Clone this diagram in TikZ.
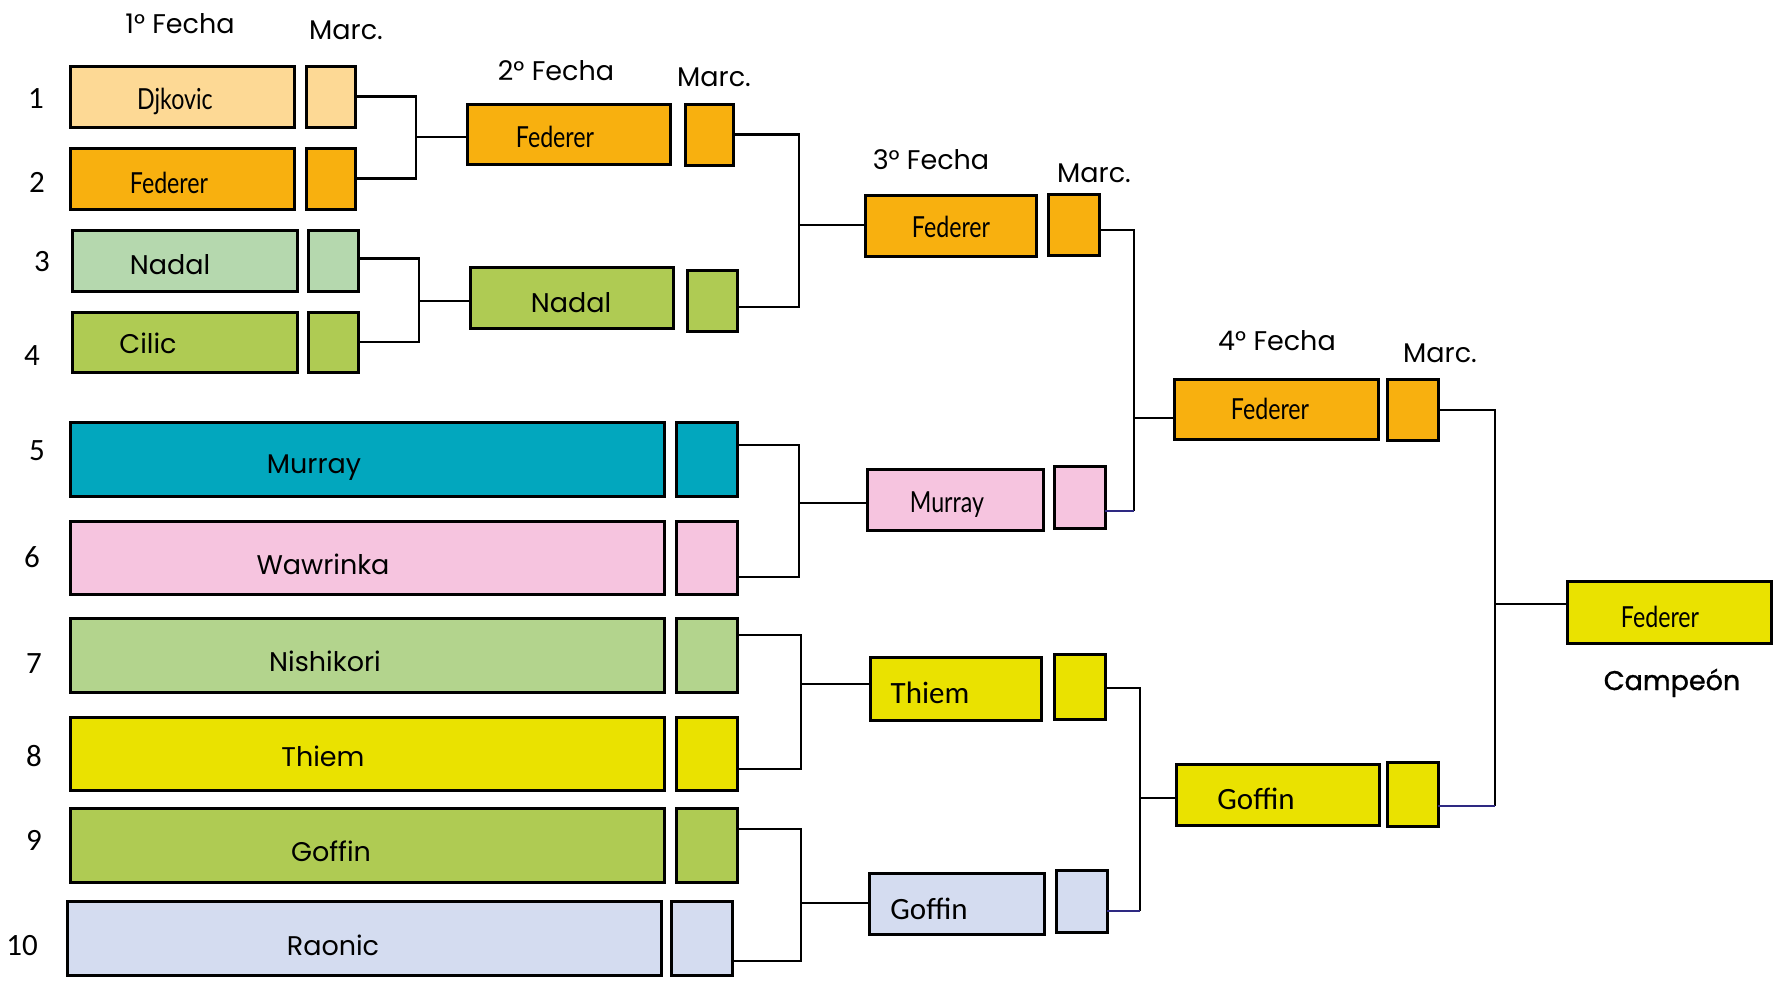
\documentclass[tikz,border=0pt]{standalone}
\usepackage{fontspec}
\setmainfont{Poppins}
\newfontfamily\narrowfont[FakeStretch=0.8]{Lato}
\newfontfamily\numfont{Carlito}
\newfontfamily\semiboldfont[FakeBold=1.2]{Poppins}
\usetikzlibrary{calc}

\definecolor{peach}{HTML}{FDD995}
\definecolor{amber}{HTML}{F8B00F}
\definecolor{mint}{HTML}{B5D8AE}
\definecolor{olivebox}{HTML}{AFCB53}
\definecolor{tealbox}{HTML}{02A7BE}
\definecolor{pinkbox}{HTML}{F6C4DF}
\definecolor{sage}{HTML}{B3D48D}
\definecolor{lemon}{HTML}{EAE200}
\definecolor{lavender}{HTML}{D4DCF0}
\definecolor{navyline}{RGB}{46,41,130}

\tikzset{
  box/.style={draw=black, line width=3pt, rectangle, inner sep=0pt, outer sep=0pt},
  conn/.style={line width=2.4pt, black},
  navyconn/.style={line width=2.4pt, navyline},
  geo/.style={font=\fontsize{27}{30}\selectfont, anchor=base, inner sep=0pt},
  campeon/.style={font=\semiboldfont\fontsize{27}{30}\selectfont, anchor=base, inner sep=0pt},
  narrow/.style={font=\narrowfont\fontsize{29}{32}\selectfont, anchor=base, inner sep=0pt},
  calib/.style={font=\numfont\fontsize{31}{34}\selectfont, anchor=base, inner sep=0pt},
}

% \pbox{name}{fill}{centre}{width}{height}
\newcommand\pbox[5]{\node[box, fill=#2, minimum width=#4pt, minimum height=#5pt] (#1) at (#3) {};}

\begin{document}
\begin{tikzpicture}[x=1pt, y=-1pt]
\useasboundingbox (0,0) rectangle (1775,985);

% ---------- round titles ----------
\node[geo] (h1) at (180,33) {1° Fecha};
\node[geo] (k1) at (346,39) {Marc.};
\node[geo] (h2) at (556,80) {2° Fecha};
\node[geo] (k2) at (714,86) {Marc.};
\node[geo] (h3) at (931,169) {3° Fecha};
\node[geo] (k3) at (1094,182) {Marc.};
\node[geo] (h4) at (1277,350) {4° Fecha};
\node[geo] (k4) at (1440,362) {Marc.};

% ---------- seed numbers ----------
\node[calib] (n1) at (36,108) {1};
\node[calib] (n2) at (37,192) {2};
\node[calib] (n3) at (42,271) {3};
\node[calib] (n4) at (32,365) {4};
\node[calib] (n5) at (37,460) {5};
\node[calib] (n6) at (32,567) {6};
\node[calib] (n7) at (34,673) {7};
\node[calib] (n8) at (34,766) {8};
\node[calib] (n9) at (34,850) {9};
\node[calib] (n10) at (22,955) {10};

% ---------- first round ----------
\pbox{p1}{peach}{182,96.5}{224}{61}
\pbox{q1}{peach}{330.5,96.5}{49}{61}
\pbox{p2}{amber}{182,178.5}{224}{61}
\pbox{q2}{amber}{330.5,178.5}{49}{61}
\pbox{p3}{mint}{184.5,260.5}{225}{61}
\pbox{q3}{mint}{333,260.5}{50}{61}
\pbox{p4}{olivebox}{184.5,342}{225}{60}
\pbox{q4}{olivebox}{333,342}{50}{60}
\pbox{p5}{tealbox}{367,459}{594}{74}
\pbox{q5}{tealbox}{706.5,459}{61}{74}
\pbox{p6}{pinkbox}{367,557.5}{594}{73}
\pbox{q6}{pinkbox}{706.5,557.5}{61}{73}
\pbox{p7}{sage}{367,655}{594}{74}
\pbox{q7}{sage}{706.5,655}{61}{74}
\pbox{p8}{lemon}{367,753.5}{594}{73}
\pbox{q8}{lemon}{706.5,753.5}{61}{73}
\pbox{p9}{olivebox}{367,845}{594}{74}
\pbox{q9}{olivebox}{706.5,845}{61}{74}
\pbox{p10}{lavender}{364,938}{594}{74}
\pbox{q10}{lavender}{701.5,938}{61}{74}

\node[narrow] (l1) at (175,109) {Djkovic};
\node[narrow] (l2) at (169,193) {Federer};
\node[geo] (l3) at (170,274) {Nadal};
\node[geo] (l4) at (148,353) {Cilic};
\node[geo] (l5) at (314,473) {Murray};
\node[geo] (l6) at (323,574) {Wawrinka};
\node[geo] (l7) at (325,671) {Nishikori};
\node[geo] (l8) at (323,766) {Thiem};
\node[geo] (l9) at (331,861) {Goffin};
\node[geo] (l10) at (333,955) {Raonic};

% ---------- second round ----------
\pbox{r1}{amber}{568.5,134}{203}{60}
\pbox{s1}{amber}{709,134.5}{48}{61}
\pbox{r2}{olivebox}{571.5,297.5}{203}{61}
\pbox{s2}{olivebox}{712,300.5}{50}{61}
\node[narrow] (lr1) at (555,147) {Federer};
\node[geo] (lr2) at (571,312) {Nadal};

% ---------- third round ----------
\pbox{t1}{amber}{950.5,225.5}{171}{61}
\pbox{u1}{amber}{1073.5,224.5}{51}{61}
\pbox{t2}{pinkbox}{955,499.5}{176}{61}
\pbox{u2}{pinkbox}{1079.5,497}{51}{62}
\pbox{t3}{lemon}{955.5,688.5}{171}{63}
\pbox{u3}{lemon}{1079.5,686.5}{51}{65}
\pbox{t4}{lavender}{956.5,903.5}{175}{61}
\pbox{u4}{lavender}{1081.5,901}{51}{62}
\node[narrow] (lt1) at (951,237) {Federer};
\node[narrow] (lt2) at (947,512) {Murray};
\node[calib] (lt3) at (930,703) {Thiem};
\node[calib] (lt4) at (929,919) {Goffin};

% ---------- fourth round ----------
\pbox{v1}{amber}{1276,409}{204}{60}
\pbox{w1}{amber}{1412.5,409.5}{51}{61}
\pbox{v2}{lemon}{1277.5,794.5}{203}{61}
\pbox{w2}{lemon}{1412.5,794}{51}{64}
\node[narrow] (lv1) at (1270,419) {Federer};
\node[calib] (lv2) at (1256,809) {Goffin};

% ---------- champion ----------
\pbox{champ}{lemon}{1669,612}{204}{62}
\node[narrow] (lc) at (1660,627) {Federer};
\node[campeon] (lcam) at (1672,690) {Campeón};

% ---------- bracket junctions ----------
\coordinate (jA) at (416,137);
\coordinate (jB) at (419,301);
\coordinate (jC) at (799,225);
\coordinate (jD) at (799,503);
\coordinate (jE) at (801,684);
\coordinate (jF) at (801,903);
\coordinate (jG) at (1134,418);
\coordinate (jH) at (1140,798);
\coordinate (jI) at (1495,604);
\coordinate (gG) at (1134,511);
\coordinate (gH) at (1140,911);
\coordinate (gI) at (1495,806);

% first round -> second round
\draw[conn] (q1.east) -| (jA) |- (q2.east);
\draw[conn] (jA) -- (jA -| r1.west);
\draw[conn] ([yshift=2pt]q3.east) -| (jB) |- (q4.east);
\draw[conn] (jB) -- (jB -| r2.west);

% first round -> third round
\draw[conn] ([yshift=14pt]q5.east) -| (jD) |- ([yshift=-19.5pt]q6.east);
\draw[conn] (jD) -- (jD -| t2.west);
\draw[conn] ([yshift=20pt]q7.east) -| (jE) |- ([yshift=-15.5pt]q8.east);
\draw[conn] (jE) -- (jE -| t3.west);
\draw[conn] ([yshift=16pt]q9.east) -| (jF) |- ([yshift=-23pt]q10.east);
\draw[conn] (jF) -- (jF -| t4.west);

% second round -> third round
\draw[conn] (s1.east) -| (jC) |- ([yshift=-6.5pt]s2.east);
\draw[conn] (jC) -- (jC -| t1.west);

% third round -> fourth round
\draw[conn] ([yshift=-5.5pt]u1.east) -| (gG);
\draw[navyconn] ([yshift=-14pt]u2.east) -- (gG);
\draw[conn] (jG) -- (jG -| v1.west);
\draw[conn] ([yshift=-1.5pt]u3.east) -| (gH);
\draw[navyconn] ([yshift=-10pt]u4.east) -- (gH);
\draw[conn] (jH) -- (jH -| v2.west);

% final
\draw[conn] ([yshift=-0.5pt]w1.east) -| (gI);
\draw[navyconn] ([yshift=-12pt]w2.east) -- (gI);
\draw[conn] (jI) -- (jI -| champ.west);
\end{tikzpicture}
\end{document}
